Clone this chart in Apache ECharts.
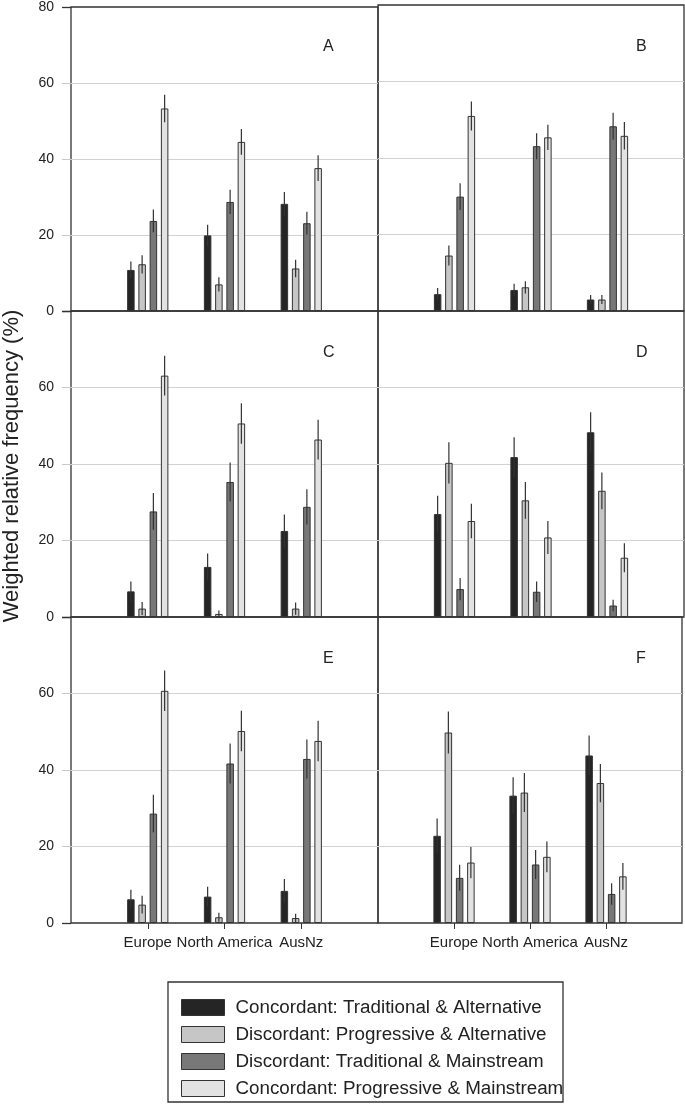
<!DOCTYPE html>
<html>
<head>
<meta charset="utf-8">
<script src="https://cdn.jsdelivr.net/npm/echarts@6/dist/echarts.min.js"></script>
<style>
html,body{margin:0;padding:0;background:#fff;}
#chart{width:685px;height:1104px;}
</style>
</head>
<body>
<div id="chart"></div>
<script>
// ---- data ----
const regions = ['Europe', 'North America', 'AusNz'];
const seriesNames = [
  'Concordant: Traditional & Alternative',
  'Discordant: Progressive & Alternative',
  'Discordant: Traditional & Mainstream',
  'Concordant: Progressive & Mainstream'
];
const panelLabels = ['A', 'B', 'C', 'D', 'E', 'F'];
const yTicks = [0, 20, 40, 60, 80];

// values: one row per series, one column per region
const valuesA = [[10.8, 19.9, 28.2], [12.3, 7.0, 11.2], [23.7, 28.7, 23.1], [53.3, 44.5, 37.6]];
const errorsA = [[2.2, 2.8, 3.1], [2.4, 1.9, 2.3], [3.0, 3.2, 3.0], [3.6, 3.4, 3.4]];
const valuesB = [[4.4, 5.5, 3.0], [14.5, 6.2, 3.0], [29.9, 43.1, 48.3], [51.0, 45.4, 45.8]];
const errorsB = [[1.6, 1.6, 1.2], [2.6, 1.6, 1.2], [3.5, 3.4, 3.5], [3.8, 3.3, 3.6]];
const valuesC = [[6.7, 13.1, 22.5], [2.2, 0.8, 2.2], [27.6, 35.3, 28.8], [63.1, 50.6, 46.4]];
const errorsC = [[2.6, 3.5, 4.3], [1.7, 0.9, 1.6], [4.8, 5.1, 4.6], [5.2, 5.3, 5.2]];
const valuesD = [[26.9, 41.8, 48.3], [40.3, 30.5, 33.0], [7.3, 6.6, 3.0], [25.1, 20.8, 15.5]];
const errorsD = [[4.8, 5.2, 5.2], [5.4, 4.8, 4.8], [2.9, 2.7, 1.5], [4.5, 4.3, 3.8]];
const valuesE = [[6.2, 6.9, 8.4], [4.8, 1.5, 1.3], [28.6, 41.7, 42.9], [60.7, 50.2, 47.6]];
const errorsE = [[2.5, 2.6, 3.1], [2.3, 1.2, 1.1], [4.9, 5.2, 5.1], [5.3, 5.3, 5.3]];
const valuesF = [[22.8, 33.3, 43.8], [49.8, 34.1, 36.6], [11.8, 15.3, 7.6], [15.8, 17.3, 12.2]];
const errorsF = [[4.5, 4.8, 5.2], [5.5, 5.1, 5.0], [3.4, 3.8, 2.8], [4.1, 4.0, 3.5]];

const panelValues = [valuesA, valuesB, valuesC, valuesD, valuesE, valuesF];
const panelErrors = [errorsA, errorsB, errorsC, errorsD, errorsE, errorsF];

// ---- styling ----
const FONT = "'Liberation Sans', Arial, sans-serif";
const colors = ['#252525', '#c6c6c6', '#787878', '#e2e2e2'];
const BAR_W = 7.5, BAR_GAP = 3.75, PITCH = BAR_W + BAR_GAP;
const axisCats = [''].concat(regions, ['']);

const chart = echarts.init(document.getElementById('chart'), null, {renderer: 'canvas'});

const grids = [], xAxes = [], yAxes = [], series = [], graphics = [];

panelLabels.forEach((lab, i) => {
  const col = i % 2, row = Math.floor(i / 2);
  const left = col === 0 ? 71 : 378;
  const width = col === 0 ? 307 : 306;
  const top = 5 + row * 306;
  grids.push({left: left, top: top, width: width, height: 306, show: true,
    borderColor: '#333', borderWidth: 1.3, backgroundColor: 'transparent', containLabel: false});
  const isBottom = row === 2;
  xAxes.push({
    type: 'category', gridIndex: i, data: axisCats, boundaryGap: false,
    axisLine: {show: false},
    axisTick: {show: isBottom, length: 6, interval: (idx) => idx > 0 && idx < axisCats.length - 1,
      lineStyle: {color: '#333', width: 1}},
    axisLabel: {show: isBottom, interval: 0, fontSize: 15, color: '#222', fontFamily: FONT, margin: 12},
    splitLine: {show: false}
  });
  const mainY = yAxes.length;
  yAxes.push({
    type: 'value', gridIndex: i, min: yTicks[0], max: yTicks[yTicks.length - 1], interval: 20,
    position: 'left',
    axisLine: {show: false},
    axisTick: {show: col === 0, length: 9, lineStyle: {color: '#c8c8c8', width: 1}},
    axisLabel: {show: col === 0, fontSize: 14, color: '#222', fontFamily: FONT, margin: 17,
      showMaxLabel: row === 0, showMinLabel: true},
    splitLine: {show: true, showMinLine: false, showMaxLine: false, lineStyle: {color: '#d2d2d2', width: 1}}
  });
  if (col === 0) {
    yAxes.push({
      type: 'value', gridIndex: i, min: 0, max: 80, interval: 80, position: 'left',
      axisLine: {show: false},
      axisTick: {show: true, length: 9, lineStyle: {color: '#333', width: 1.3}},
      axisLabel: {show: false}, splitLine: {show: false}
    });
  }
  const vals = panelValues[i], errs = panelErrors[i];
  const errData = [];
  seriesNames.forEach((name, j) => {
    series.push({
      type: 'bar', name: name, xAxisIndex: i, yAxisIndex: mainY,
      barWidth: BAR_W, barGap: (BAR_GAP / BAR_W * 100) + '%',
      itemStyle: {color: colors[j], borderColor: '#333', borderWidth: 1},
      data: ['-'].concat(vals[j], ['-']),
      z: 3
    });
    vals[j].forEach((v, k) => {
      errData.push([k + 1, j, v - errs[j][k], v + errs[j][k]]);
    });
  });
  series.push({
    type: 'custom', xAxisIndex: i, yAxisIndex: mainY, z: 5, silent: true,
    encode: {x: 0, y: [2, 3]},
    data: errData,
    renderItem: (params, api) => {
      const x = api.value(0), j = api.value(1);
      const p1 = api.coord([x, api.value(2)]);
      const p2 = api.coord([x, api.value(3)]);
      const off = (j - 1.5) * PITCH;
      return {type: 'line',
        shape: {x1: p1[0] + off, y1: p1[1], x2: p2[0] + off, y2: p2[1]},
        style: {stroke: '#333', lineWidth: 1.2}};
    }
  });
  graphics.push({type: 'text', left: left + width - (col === 0 ? 49 : 42) - 6, top: top + 34,
    style: {text: lab, fontSize: 16, fill: '#222', fontFamily: FONT}});
});

graphics.push({type: 'text', x: 12, y: 466, rotation: Math.PI / 2,
  style: {text: 'Weighted relative frequency (%)', fontSize: 22, fill: '#222', fontFamily: FONT,
    align: 'center', verticalAlign: 'middle'}});
graphics.push({type: 'rect', shape: {x: 168, y: 982, width: 395, height: 120},
  style: {fill: 'none', stroke: '#333', lineWidth: 1.3}});

chart.setOption({
  animation: false,
  backgroundColor: '#fff',
  grid: grids, xAxis: xAxes, yAxis: yAxes, series: series,
  graphic: graphics,
  legend: {
    data: seriesNames, orient: 'vertical', left: 181, top: 998, padding: 0,
    icon: 'rect', itemWidth: 43, itemHeight: 16, itemGap: 8,
    itemStyle: {borderColor: '#333', borderWidth: 1},
    textStyle: {fontSize: 18.8, color: '#222', fontFamily: FONT, padding: [0, 0, 0, 6]},
    selectedMode: false
  }
});
</script>
</body>
</html>
